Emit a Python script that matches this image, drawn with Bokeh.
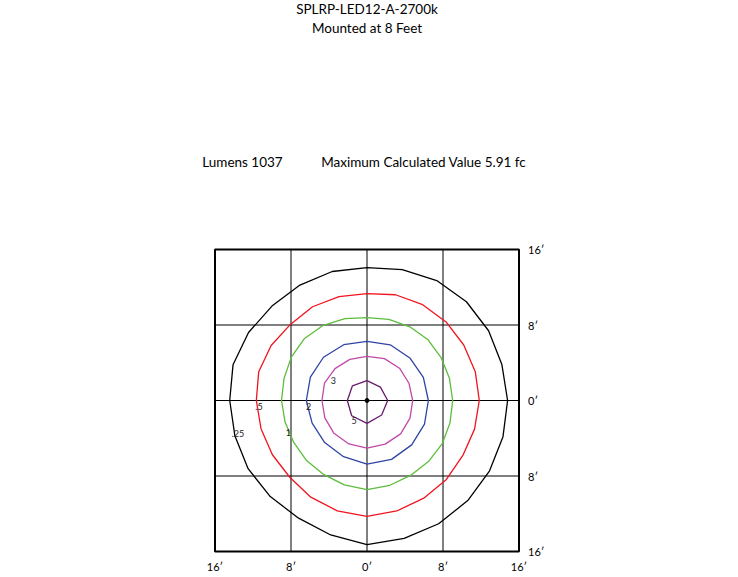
import numpy as np
from bokeh.plotting import figure
from bokeh.models import Range1d, ColumnDataSource
from bokeh.core.properties import value
from bokeh.embed import file_html
from bokeh.resources import INLINE

# ---------------- data ----------------
header_texts = ["SPLRP-LED12-A-2700k", "Mounted at 8 Feet",
                "Lumens 1037", "Maximum Calculated Value 5.91 fc"]

tick_values = [-16, -8, 0, 8, 16]
tick_labels = ["16\u2032", "8\u2032", "0\u2032", "8\u2032", "16\u2032"]
grid_values = [-8, 0, 8]

# iso-footcandle levels and contour radii (feet), sampled at equal angles from +x, counter-clockwise
levels = [".25", ".5", "1", "2", "3", "5"]
r_025 = [14.8, 14.7, 14.78, 14.8, 14.68, 14.35, 14.08, 14.15, 14.12, 14.15, 14.4, 14.6,
         14.45, 14.4, 14.45, 14.4, 14.4, 14.75, 15.28, 15.12, 15.08, 15.0, 14.9, 14.82]
r_05 = [11.82, 11.8, 11.76, 11.77, 11.72, 11.6, 11.33, 11.4, 11.47, 11.4, 11.65, 11.8,
        11.65, 11.55, 11.5, 11.5, 11.83, 12.1, 12.28, 12.12, 11.95, 11.82, 11.65, 11.72]
r_1 = [9.02, 8.99, 9.03, 9.09, 9.02, 8.9, 8.78, 8.98, 9.2, 9.3, 9.2, 9.04,
       9.0, 8.92, 8.9, 9.0, 9.07, 9.25, 9.45, 9.3, 9.17, 9.15, 9.15, 9.05]
r_2 = [6.46, 6.42, 6.38, 6.39, 6.27, 6.4, 6.48, 6.45, 6.39, 6.25, 6.3, 6.45, 6.73, 6.75, 6.65, 6.55]
r_3 = [4.81, 4.78, 4.84, 4.8, 4.68, 4.72, 4.77, 4.84, 4.74, 4.8, 4.92, 4.98, 5.04, 5.0, 5.0, 4.9]
r_5 = [2.18, 2.0, 2.1, 2.18, 2.07, 2.28, 2.42, 2.18]
radii = [r_025, r_05, r_1, r_2, r_3, r_5]

# contour label anchors (feet)
label_x = [-13.58, -11.37, -8.28, -6.14, -3.55, -1.37]
label_y = [-3.47, -0.66, -3.41, -0.66, 2.10, -2.07]

# ---------------- layout / styles ----------------
W, H = 738, 577
BOX_L, BOX_R, BOX_T, BOX_B = 214.5, 518.5, 249.0, 551.0   # page pixels of the +-16 ft box
span = tick_values[-1] - tick_values[0]
kx = (BOX_R - BOX_L) / span
ky = (BOX_B - BOX_T) / span
cx = (BOX_L + BOX_R) / 2
cy = (BOX_T + BOX_B) / 2


def fx(px):
    return (px - cx) / kx


def fy(py):
    return (cy - py) / ky


colors = ["#000000", "#f0141e", "#5cbd3c", "#2f45a6", "#c04aa8", "#6a1b6e"]
FONT = "Lato"

# header anchors in page pixels (vertical = text middle)
head_px = [366.5, 366.5, 201.7, 320.7]
head_py = [8.3, 27.3, 161.5, 161.5]
head_align = ["center", "center", "left", "left"]

p = figure(width=W, height=H,
           x_range=Range1d(fx(0), fx(W)), y_range=Range1d(fy(H), fy(0)),
           output_backend="svg", toolbar_location=None,
           x_axis_location=None, y_axis_location=None,
           min_border=0, min_border_left=0, min_border_right=0,
           min_border_top=0, min_border_bottom=0)
p.outline_line_color = None
p.xgrid.visible = False
p.ygrid.visible = False
p.background_fill_color = "white"
p.border_fill_color = "white"

lo, hi = tick_values[0], tick_values[-1]

# grid lines inside the box
p.segment(x0=grid_values, y0=[lo] * 3, x1=grid_values, y1=[hi] * 3, line_color="black", line_width=1)
p.segment(x0=[lo] * 3, y0=grid_values, x1=[hi] * 3, y1=grid_values, line_color="black", line_width=1)

# contours
for r, c in zip(radii, colors):
    rr = np.array(r + [r[0]])
    th = np.linspace(0, 2 * np.pi, len(r) + 1)
    p.line(rr * np.cos(th), rr * np.sin(th), line_color=c, line_width=1.3)

# box outline
p.quad(left=[lo], right=[hi], bottom=[lo], top=[hi], fill_color=None,
       line_color="black", line_width=2)

p.scatter([0], [0], size=4, color="black")

# contour labels
src = ColumnDataSource(dict(x=label_x, y=label_y, t=levels))
p.text(x="x", y="y", text="t", source=src, text_font=value(FONT), text_font_size="9px",
       text_color="#222222", text_align="center", text_baseline="middle")

# tick labels (bottom and right)
p.text(x=tick_values, y=[lo] * 5, text=tick_labels, y_offset=15,
       text_font=value(FONT), text_font_size="11px", text_color="black",
       text_align="center", text_baseline="middle")
p.text(x=[hi] * 5, y=tick_values, text=tick_labels, x_offset=9,
       text_font=value(FONT), text_font_size="11px", text_color="black",
       text_align="left", text_baseline="middle")

# header texts
hsrc = ColumnDataSource(dict(x=[fx(v) for v in head_px], y=[fy(v) for v in head_py],
                             t=header_texts, a=head_align))
p.text(x="x", y="y", text="t", text_align="a", source=hsrc, text_font=value(FONT),
       text_font_size="13.5px", text_color="black", text_baseline="middle")

open("out.html", "w").write(file_html(p, INLINE))
